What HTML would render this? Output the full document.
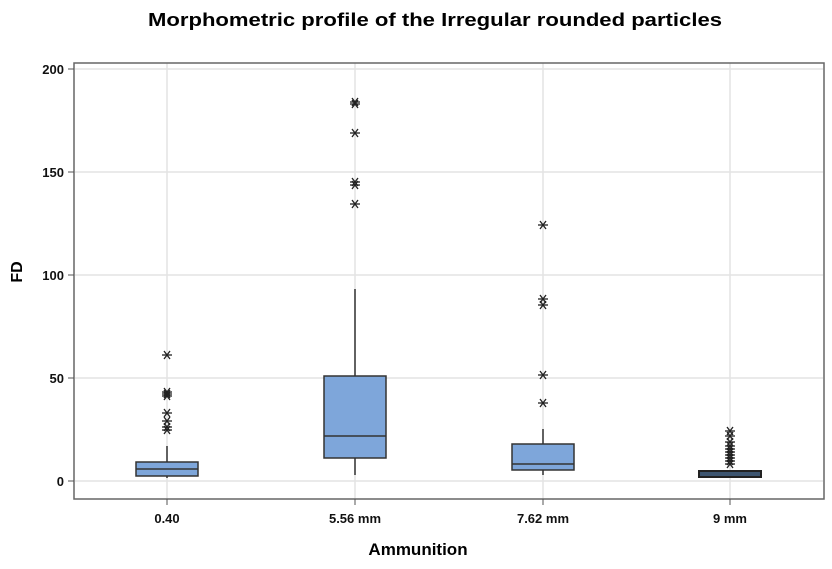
<!DOCTYPE html>
<html><head><meta charset="utf-8"><style>body{margin:0;background:#fff}svg{display:block}</style></head><body>
<svg width="832" height="569" viewBox="0 0 832 569" xmlns="http://www.w3.org/2000/svg" font-family="Liberation Sans, sans-serif">
<defs><g id="s" stroke="#222" stroke-width="1.3"><line x1="-5" y1="0" x2="5" y2="0"/><line x1="-3" y1="-4" x2="3" y2="4"/><line x1="-3" y1="4" x2="3" y2="-4"/></g></defs>
<text x="435" y="26" text-anchor="middle" font-size="18" font-weight="bold" textLength="574" lengthAdjust="spacingAndGlyphs">Morphometric profile of the Irregular rounded particles</text>
<g stroke="#e3e3e3" stroke-width="1.5">
<line x1="75" y1="69" x2="823" y2="69"/><line x1="75" y1="172" x2="823" y2="172"/><line x1="75" y1="275" x2="823" y2="275"/><line x1="75" y1="378" x2="823" y2="378"/><line x1="75" y1="481" x2="823" y2="481"/>
<line x1="167" y1="63" x2="167" y2="499"/><line x1="355" y1="63" x2="355" y2="499"/><line x1="543" y1="63" x2="543" y2="499"/><line x1="730" y1="63" x2="730" y2="499"/>
</g>
<rect x="74" y="63" width="750" height="436" fill="none" stroke="#666" stroke-width="1.5"/>
<g stroke="#555" stroke-width="1"><line x1="68" y1="69" x2="74" y2="69"/><line x1="68" y1="172" x2="74" y2="172"/><line x1="68" y1="275" x2="74" y2="275"/><line x1="68" y1="378" x2="74" y2="378"/><line x1="68" y1="481" x2="74" y2="481"/>
<line x1="167" y1="499" x2="167" y2="505"/><line x1="355" y1="499" x2="355" y2="505"/><line x1="543" y1="499" x2="543" y2="505"/><line x1="730" y1="499" x2="730" y2="505"/></g>
<g font-size="13" font-weight="bold" text-anchor="end" fill="#111"><text x="64" y="74">200</text><text x="64" y="177">150</text><text x="64" y="280">100</text><text x="64" y="383">50</text><text x="64" y="486">0</text></g>
<g font-size="13" font-weight="bold" text-anchor="middle" fill="#111"><text x="167" y="523">0.40</text><text x="355" y="523">5.56 mm</text><text x="543" y="523">7.62 mm</text><text x="730" y="523">9 mm</text></g>
<text x="418" y="555" text-anchor="middle" font-size="17" font-weight="bold">Ammunition</text>
<text transform="translate(22,272) rotate(-90)" text-anchor="middle" font-size="16" font-weight="bold">FD</text>
<g stroke="#333" stroke-width="1.5">
<line x1="167" y1="446" x2="167" y2="462"/><line x1="167" y1="476" x2="167" y2="478"/>
<rect x="136" y="462" width="62" height="14" fill="#7ea6da"/><line x1="136" y1="469" x2="198" y2="469"/>
<line x1="355" y1="289" x2="355" y2="376"/><line x1="355" y1="458" x2="355" y2="475"/>
<rect x="324" y="376" width="62" height="82" fill="#7ea6da"/><line x1="324" y1="436" x2="386" y2="436"/>
<line x1="543" y1="429" x2="543" y2="444"/><line x1="543" y1="470" x2="543" y2="475"/>
<rect x="512" y="444" width="62" height="26" fill="#7ea6da"/><line x1="512" y1="464" x2="574" y2="464"/>
<rect x="699" y="471" width="62" height="6" fill="#3d5570" stroke="#222" stroke-width="2"/>
</g>
<use href="#s" x="167" y="355"/><use href="#s" x="167" y="392"/><use href="#s" x="167" y="394"/><use href="#s" x="167" y="396"/><use href="#s" x="167" y="413"/><use href="#s" x="167" y="421"/><use href="#s" x="167" y="427"/><use href="#s" x="167" y="430"/>
<use href="#s" x="355" y="104"/><use href="#s" x="355" y="102"/><use href="#s" x="355" y="133"/><use href="#s" x="355" y="182"/><use href="#s" x="355" y="185"/><use href="#s" x="355" y="204"/>
<use href="#s" x="543" y="225"/><use href="#s" x="543" y="299"/><use href="#s" x="543" y="305"/><use href="#s" x="543" y="375"/><use href="#s" x="543" y="403"/>
<use href="#s" x="730" y="431"/><use href="#s" x="730" y="436"/><use href="#s" x="730" y="442"/><use href="#s" x="730" y="446"/><use href="#s" x="730" y="449"/><use href="#s" x="730" y="452"/><use href="#s" x="730" y="455"/><use href="#s" x="730" y="458"/><use href="#s" x="730" y="461"/><use href="#s" x="730" y="464"/>
</svg>
</body></html>
